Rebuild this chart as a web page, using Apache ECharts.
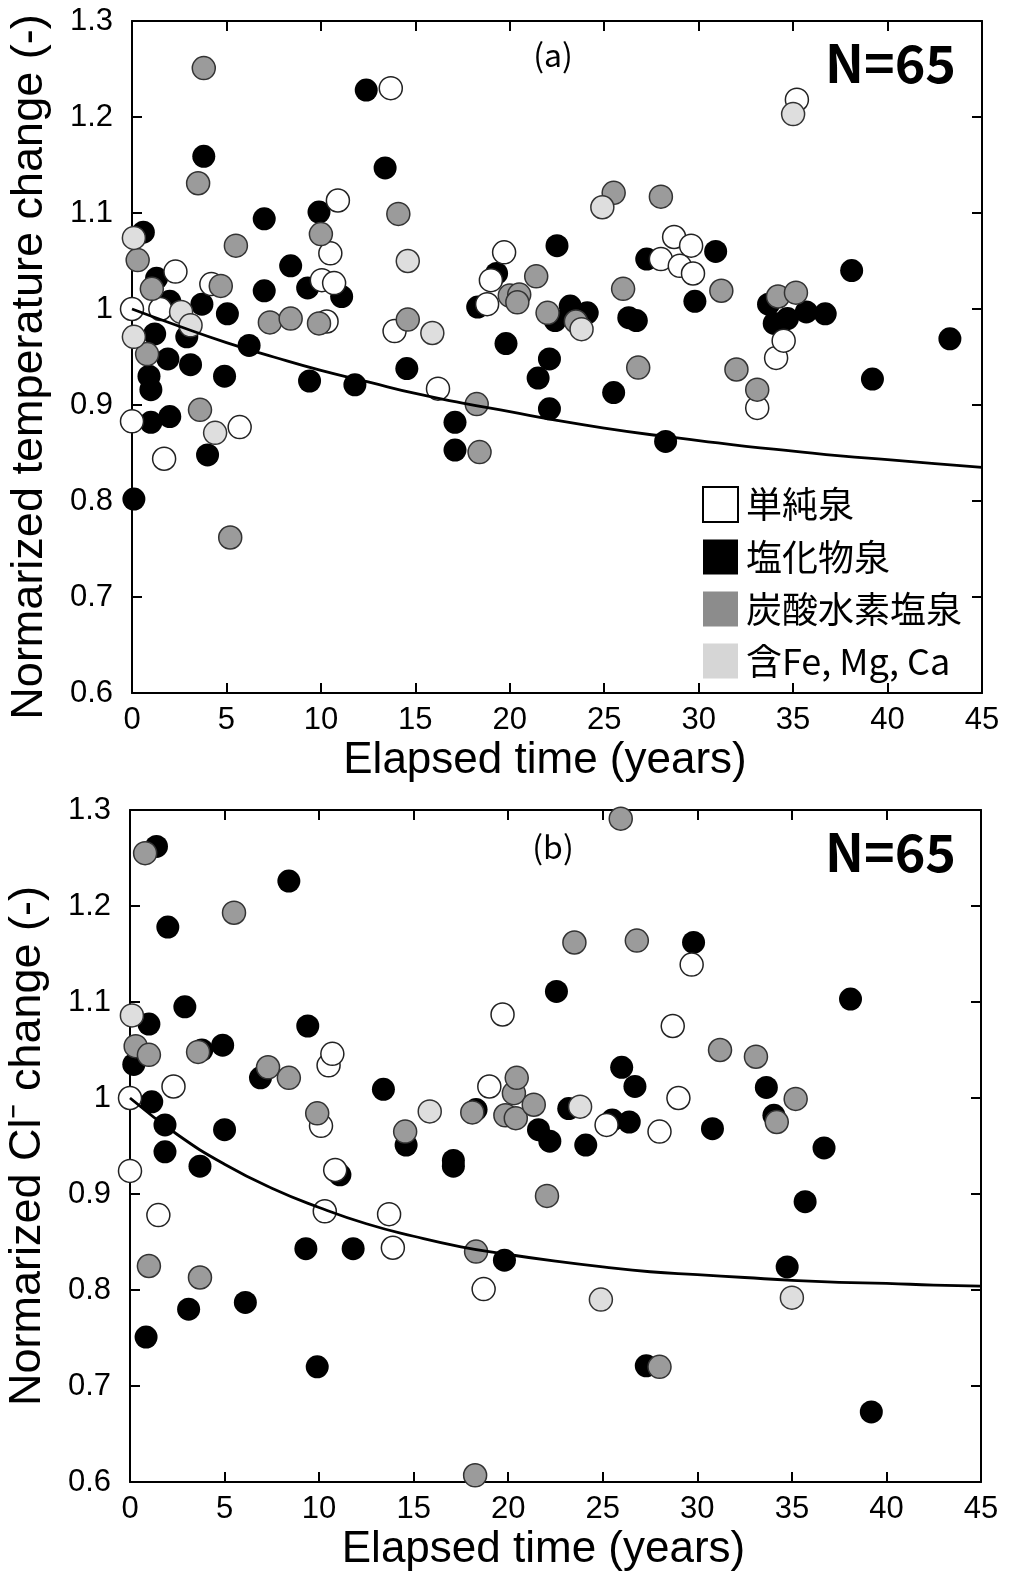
<!DOCTYPE html>
<html>
<head>
<meta charset="utf-8">
<script src="https://cdn.jsdelivr.net/npm/echarts@6.0.0/dist/echarts.min.js"></script>
<style>
  html, body { margin: 0; padding: 0; background: #fff; }
  #chart { width: 1009px; height: 1573px; }
</style>
</head>
<body>
<div id="chart"></div>
<script>
// spring types (legend)
var typeNames = ['単純泉', '塩化物泉', '炭酸水素塩泉', '含Fe, Mg, Ca'];

// (a) temperature change, [elapsed years, normalized value]
var tempSimple = [[0, 1.0], [0, 0.883], [1.5, 1.0], [1.7, 0.844], [2.3, 1.039], [4.2, 1.026], [5.7, 0.877],
    [10.05, 1.03], [10.7, 1.027], [10.3, 0.987], [10.5, 1.058], [10.9, 1.113], [13.7, 1.23], [13.9, 0.977],
    [16.2, 0.917], [18.8, 1.005], [19.0, 1.03], [19.7, 1.059], [28.0, 1.052], [28.7, 1.075], [29.0, 1.045],
    [29.6, 1.066], [29.7, 1.037], [33.1, 0.897], [34.1, 0.949], [34.5, 0.967], [35.2, 1.218]];
var tempChloride = [[0.1, 0.802], [0.6, 1.08], [0.9, 0.93], [1.0, 0.916], [1.0, 0.882], [1.2, 0.974], [1.3, 1.032],
    [1.9, 0.948], [2.0, 1.008], [2.0, 0.888], [2.9, 0.971], [3.1, 0.942], [3.7, 1.005], [3.8, 1.159], [4.0, 0.848],
    [4.9, 0.93], [5.05, 0.995], [6.2, 0.962], [7.0, 1.094], [7.0, 1.019], [8.4, 1.045], [9.3, 1.022], [9.4, 0.925],
    [9.9, 1.101], [11.1, 1.013], [11.8, 0.921], [12.4, 1.228], [13.4, 1.147], [14.55, 0.938], [17.1, 0.882],
    [17.1, 0.853], [18.3, 1.002], [19.3, 1.037], [19.8, 0.964], [21.5, 0.928], [22.1, 0.948], [22.1, 0.896],
    [22.4, 0.988], [22.5, 1.066], [23.2, 1.003], [24.1, 0.996], [25.5, 0.913], [26.3, 0.991], [26.7, 0.988],
    [27.25, 1.052], [28.25, 0.862], [29.8, 1.008], [30.9, 1.06], [33.7, 1.005], [34.0, 0.985], [34.7, 0.99],
    [35.7, 0.997], [36.7, 0.995], [38.1, 1.04], [39.2, 0.927], [43.3, 0.969]];
var tempBicarb = [[0.3, 1.051], [0.8, 0.953], [1.05, 1.021], [3.5, 1.131], [3.6, 0.895], [3.8, 1.251], [4.7, 1.024],
    [5.2, 0.762], [5.5, 1.066], [7.3, 0.986], [8.4, 0.99], [9.9, 0.985], [10.0, 1.078], [14.1, 1.099], [14.6, 0.989],
    [18.25, 0.901], [18.4, 0.851], [20.0, 1.014], [20.5, 1.015], [20.4, 1.007], [21.4, 1.034], [22.0, 0.996],
    [23.5, 0.987], [25.5, 1.121], [26.0, 1.021], [26.8, 0.939], [28.0, 1.117], [31.2, 1.019], [32.0, 0.937],
    [33.1, 0.916], [34.2, 1.013], [35.15, 1.017]];
var tempFeMgCa = [[0.1, 1.074], [0.1, 0.971], [2.6, 0.997], [3.1, 0.983], [4.4, 0.871], [14.6, 1.05], [15.9, 0.975],
    [23.8, 0.979], [24.9, 1.106], [35.0, 1.203]];

// (b) Cl- change
var clSimple = [[0, 1.0], [0, 0.924], [1.5, 0.878], [2.3, 1.012], [10.1, 0.971], [10.3, 0.882], [10.5, 1.034],
    [10.7, 1.046], [10.85, 0.925], [13.7, 0.879], [13.9, 0.844], [18.7, 0.801], [19.0, 1.012], [19.7, 1.087],
    [25.2, 0.972], [28.0, 0.965], [28.7, 1.075], [29.0, 1.0], [29.7, 1.139]];
var clChloride = [[0.2, 1.035], [0.85, 0.751], [1.0, 1.077], [1.15, 0.996], [1.4, 1.262], [1.85, 0.972], [1.85, 0.944],
    [2.0, 1.178], [2.9, 1.095], [3.1, 0.78], [3.7, 0.929], [3.8, 1.05], [4.9, 1.055], [5.0, 0.967], [6.1, 0.787],
    [6.9, 1.021], [8.4, 1.226], [9.3, 0.843], [9.4, 1.075], [9.9, 0.72], [11.1, 0.92], [11.8, 0.843], [13.4, 1.009],
    [14.6, 0.951], [17.1, 0.935], [17.1, 0.929], [18.3, 0.988], [19.8, 0.831], [21.6, 0.967], [22.2, 0.955],
    [22.55, 1.111], [23.2, 0.989], [24.1, 0.951], [25.5, 0.977], [26.0, 1.032], [26.4, 0.975], [26.7, 1.012],
    [27.3, 0.721], [29.8, 1.162], [30.8, 0.968], [33.65, 1.011], [34.05, 0.982], [34.75, 0.824], [35.7, 0.892],
    [36.7, 0.948], [38.1, 1.103], [39.2, 0.673]];
var clBicarb = [[0.3, 1.054], [0.8, 1.255], [1.0, 0.825], [1.0, 1.045], [3.6, 1.048], [3.7, 0.813], [5.5, 1.193],
    [7.3, 1.032], [8.4, 1.021], [9.9, 0.984], [14.55, 0.965], [18.1, 0.985], [18.3, 0.84], [18.25, 0.607],
    [19.85, 0.982], [20.3, 1.005], [20.45, 1.021], [20.4, 0.979], [21.35, 0.993], [22.05, 0.898], [23.5, 1.162],
    [25.95, 1.291], [26.8, 1.164], [28.0, 0.72], [31.2, 1.05], [33.1, 1.043], [34.2, 0.975], [35.2, 0.999]];
var clFeMgCa = [[0.1, 1.086], [15.85, 0.986], [23.8, 0.991], [24.9, 0.79], [35.0, 0.792]];

// trend curves
var curveYears = [0, 2.5, 5, 7.5, 10, 12.5, 15, 17.5, 20, 22.5, 25, 27.5, 30, 32.5, 35, 37.5, 40, 42.5, 45];
var tempCurve = [1.0, 0.982, 0.965, 0.95, 0.936, 0.924, 0.912, 0.902, 0.893, 0.884, 0.876, 0.869, 0.863, 0.857,
    0.852, 0.847, 0.843, 0.839, 0.835];
var clCurve = [1.0, 0.962, 0.931, 0.906, 0.886, 0.869, 0.856, 0.845, 0.837, 0.83, 0.824, 0.819, 0.816, 0.813,
    0.81, 0.808, 0.807, 0.805, 0.804];

var xTicks = [0, 45, 5];       // min, max, interval
var yTicks = [0.6, 1.3, 0.1];

var mychart = echarts.init(document.getElementById('chart'));

var labelFont = 'Liberation Sans';
var cjkFont = 'Noto Sans CJK JP';

var fills = ['#ffffff', '#000000', '#9b9b9b', '#dedede'];
var borders = ['#222222', '#000000', '#333333', '#333333'];

function pairs(xs, ys) {
    return xs.map(function (x, i) { return [x, ys[i]]; });
}

function xAxes(gridIndex) {
    var base = {
        type: 'value', gridIndex: gridIndex, min: xTicks[0], max: xTicks[1], interval: xTicks[2],
        axisLine: {show: true, onZero: false, lineStyle: {color: '#000', width: 2}},
        axisTick: {show: true, inside: true, length: 10, lineStyle: {color: '#000', width: 2}},
        splitLine: {show: false}
    };
    var bottom = Object.assign({}, base, {
        position: 'bottom',
        axisLabel: {show: true, margin: 12, fontFamily: labelFont, fontSize: 31, color: '#000'},
        name: 'Elapsed time (years)',
        nameLocation: 'middle', nameGap: 46,
        nameTextStyle: {fontFamily: labelFont, fontSize: 44, color: '#000', lineHeight: 44, padding: [0, 24, 0, 0]}
    });
    var top = Object.assign({}, base, {position: 'top', axisLabel: {show: false}});
    return [bottom, top];
}

function yAxes(gridIndex, title, shift) {
    var base = {
        type: 'value', gridIndex: gridIndex, min: yTicks[0], max: yTicks[1], interval: yTicks[2],
        axisLine: {show: true, onZero: false, lineStyle: {color: '#000', width: 2}},
        axisTick: {show: true, inside: true, length: 10, lineStyle: {color: '#000', width: 2}},
        splitLine: {show: false}
    };
    var left = Object.assign({}, base, {
        position: 'left',
        axisLabel: {
            show: true, margin: 19, fontFamily: labelFont, fontSize: 31, color: '#000',
            formatter: function (v) { return String(Math.round(v * 10) / 10); }
        },
        name: title, nameLocation: 'middle', nameRotate: 90, nameGap: 80,
        nameTextStyle: {fontFamily: labelFont, fontSize: 45, color: '#000', lineHeight: 45, padding: [0, shift, 0, 0]}
    });
    var right = Object.assign({}, base, {position: 'right', axisLabel: {show: false}});
    return [left, right];
}

function scatterSeries(typeIndex, data, xi, yi) {
    return {
        type: 'scatter', name: typeNames[typeIndex], xAxisIndex: xi, yAxisIndex: yi,
        symbol: 'circle', symbolSize: 23, clip: false,
        itemStyle: {color: fills[typeIndex], borderColor: borders[typeIndex], borderWidth: typeIndex === 1 ? 0 : 1.5, opacity: 1},
        emphasis: {disabled: true},
        data: data
    };
}

function curveSeries(ys, xi, yi) {
    return {
        type: 'line', xAxisIndex: xi, yAxisIndex: yi, smooth: true, symbol: 'none',
        lineStyle: {color: '#000', width: 2.8}, silent: true,
        data: pairs(curveYears, ys)
    };
}

var option = {
    animation: false,
    backgroundColor: '#fff',
    grid: [
        {left: 132, right: 27, top: 21, height: 672, containLabel: false, outerBoundsMode: 'none'},
        {left: 130, right: 28, top: 810, height: 672, containLabel: false, outerBoundsMode: 'none'}
    ],
    xAxis: xAxes(0).concat(xAxes(1)),
    yAxis: yAxes(0, 'Normarized temperature change (-)', 20).concat(yAxes(1, 'Normarized Cl⁻ change (-)', 0)),
    legend: {
        orient: 'vertical', left: 702, top: 486, padding: 0,
        itemWidth: 35, itemHeight: 35, itemGap: 16, icon: 'rect', selectedMode: false,
        textStyle: {fontFamily: cjkFont, fontSize: 36, color: '#000', lineHeight: 35, padding: [0, 0, 0, 3]},
        data: [
            {name: typeNames[0], itemStyle: {color: '#fff', borderColor: '#000', borderWidth: 2}},
            {name: typeNames[1], itemStyle: {color: '#000', borderWidth: 0}},
            {name: typeNames[2], itemStyle: {color: '#8c8c8c', borderWidth: 0}},
            {name: typeNames[3], itemStyle: {color: '#d6d6d6', borderWidth: 0}}
        ]
    },
    graphic: [
        {type: 'text', x: 553, y: 55, style: {text: '(a)', fontFamily: cjkFont, fontSize: 32, fill: '#000', textAlign: 'center', textVerticalAlign: 'middle'}},
        {type: 'text', x: 956, y: 63, style: {text: 'N=65', fontFamily: cjkFont, fontWeight: 'bold', fontSize: 52, fill: '#000', textAlign: 'right', textVerticalAlign: 'middle'}},
        {type: 'text', x: 553, y: 847, style: {text: '(b)', fontFamily: cjkFont, fontSize: 32, fill: '#000', textAlign: 'center', textVerticalAlign: 'middle'}},
        {type: 'text', x: 956, y: 852, style: {text: 'N=65', fontFamily: cjkFont, fontWeight: 'bold', fontSize: 52, fill: '#000', textAlign: 'right', textVerticalAlign: 'middle'}}
    ],
    series: [
        curveSeries(tempCurve, 0, 0),
        scatterSeries(1, tempChloride, 0, 0),
        scatterSeries(0, tempSimple, 0, 0),
        scatterSeries(2, tempBicarb, 0, 0),
        scatterSeries(3, tempFeMgCa, 0, 0),
        curveSeries(clCurve, 2, 2),
        scatterSeries(1, clChloride, 2, 2),
        scatterSeries(0, clSimple, 2, 2),
        scatterSeries(2, clBicarb, 2, 2),
        scatterSeries(3, clFeMgCa, 2, 2)
    ]
};
mychart.setOption(option);
</script>
</body>
</html>
